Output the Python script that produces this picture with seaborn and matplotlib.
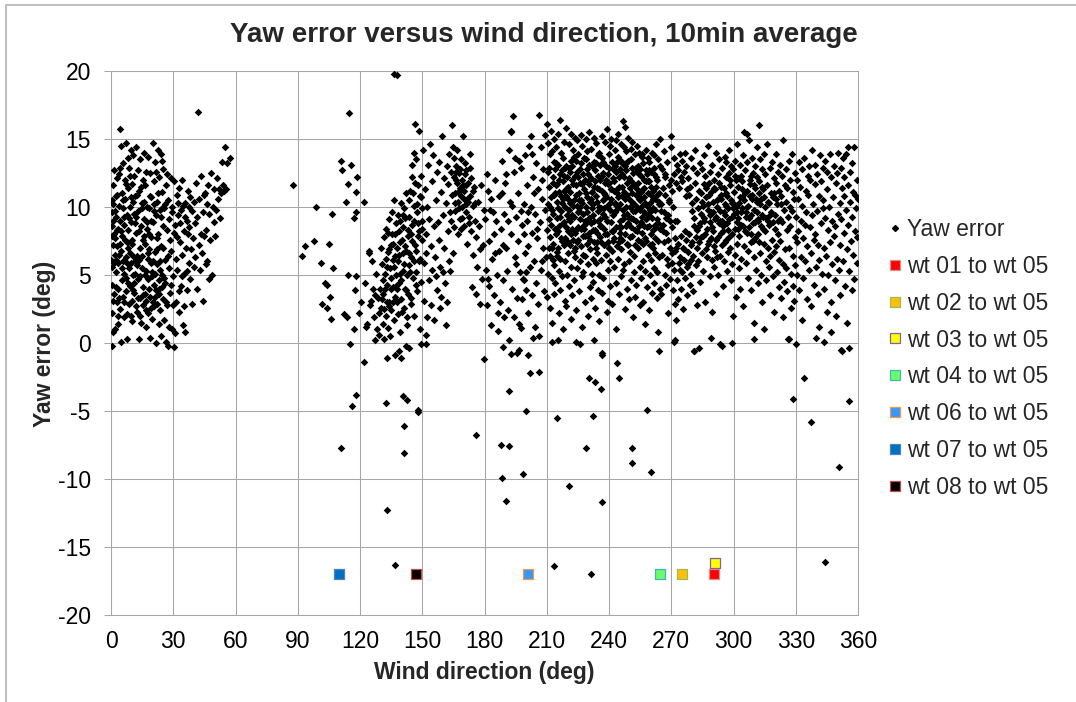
import matplotlib
matplotlib.use('Agg')
import pandas as pd
import matplotlib.pyplot as plt
import seaborn as sns
from matplotlib.lines import Line2D

# (wind direction deg, yaw error deg), split by direction sector
seg_000_060 = [
    (0.3,-0.2),(0.5,2.2),(0.8,0.8),(0.4,4.3),(0.6,5.6),(0.2,6.1),(0.9,7.2),(0.5,8.6),(0.7,9.6),(0.3,10.5),
    (1.1,10.2),(1.4,12.7),(1.2,11.6),(1.6,8.0),(1.8,6.5),(1.5,3.6),(2.0,1.0),(2.3,9.3),(2.1,7.7),(2.6,5.2),
    (2.4,10.8),(2.8,12.1),(2.9,3.0),(3.2,1.4),(3.0,7.1),(3.4,8.4),(3.6,5.9),(3.3,4.0),(3.8,10.1),(3.9,12.4),
    (4.1,9.0),(4.4,15.7),(4.6,6.8),(4.3,2.5),(4.8,0.1),(5.0,14.5),(5.2,11.0),(5.4,7.9),(5.1,4.6),(5.6,3.4),
    (5.8,9.9),(6.0,13.2),(6.2,8.7),(6.4,5.1),(6.1,1.9),(6.6,12.0),(6.8,10.6),(7.0,6.3),(7.2,3.8),(7.1,14.7),
    (7.5,9.4),(7.7,7.4),(7.4,4.8),(7.9,0.3),(8.1,13.6),(8.3,11.4),(8.0,8.3),(8.5,2.9),(8.7,5.5),(8.9,12.9),
    (9.1,10.0),(9.3,6.6),(9.0,4.2),(9.5,14.2),(9.7,8.9),(9.9,3.1),(10.1,11.7),(10.3,7.6),(10.5,5.0),(10.2,1.6),
    (10.7,13.8),(10.9,9.5),(11.1,3.7),(11.3,12.3),(11.5,6.0),(11.2,4.4),(11.8,10.8),(12.0,8.1),(12.2,14.4),(12.4,2.3),
    (12.6,5.7),(12.8,12.7),(13.0,9.7),(13.2,3.3),(13.4,0.3),(13.6,11.2),(13.8,7.0),(14.0,4.9),(14.2,13.5),(14.4,8.6),
    (14.6,1.5),(14.8,10.3),(15.0,6.4),(15.2,2.8),(15.4,12.0),(15.6,4.1),(15.8,9.1),(16.0,14.0),(16.2,7.3),(16.4,3.6),
    (16.6,11.6),(16.8,5.3),(17.0,1.2),(17.2,10.0),(17.4,8.4),(17.6,13.7),(17.8,4.7),(18.0,2.2),(18.2,9.9),(18.4,6.9),
    (18.6,0.4),(18.8,12.5),(19.0,3.4),(19.2,7.8),(19.4,10.7),(19.6,5.2),(19.8,1.8),(20.0,14.7),(20.3,8.9),(20.5,4.3),
    (20.7,11.9),(20.9,2.7),(21.1,6.7),(21.3,13.3),(21.5,9.4),(21.7,0.0),(21.9,3.9),(22.1,10.4),(22.3,5.8),(22.5,14.2),
    (22.7,8.0),(22.9,1.4),(23.1,12.2),(23.3,4.6),(23.5,9.8),(23.7,2.4),(23.9,13.9),(24.1,7.1),(24.3,0.5),(24.5,11.1),
    (24.7,5.0),(24.9,8.6),(25.1,3.2),(25.3,12.8),(25.5,1.7),(25.7,9.9),(25.9,6.1),(26.1,4.4),(26.3,11.6),(26.5,0.1),
    (26.8,8.3),(27.0,2.8),(27.3,10.5),(27.5,-0.2),(27.8,5.5),(28.1,9.1),(28.4,3.7),(28.7,12.1),(29.0,6.8),(29.3,1.0),
    (29.6,10.0),(29.9,4.9),(30.2,-0.3),(30.5,11.9),(30.8,8.7),(31.1,3.0),(31.4,6.2),(31.7,10.9),(32.0,5.4),(32.3,9.4),
    (32.6,2.3),(32.9,11.4),(33.2,7.4),(33.5,4.2),(33.8,9.8),(34.1,6.5),(34.4,12.0),(34.7,1.3),(35.0,8.2),(35.3,5.1),
    (35.6,10.3),(35.9,0.8),(36.2,7.0),(36.5,9.0),(36.8,3.9),(37.1,11.2),(37.4,5.9),(37.7,8.5),(38.0,4.7),(38.3,10.7),
    (38.6,6.9),(38.9,9.7),(39.2,2.9),(39.5,7.7),(39.8,10.4),(40.1,5.6),(40.4,8.8),(40.7,6.3),(41.0,11.8),(41.3,4.0),
    (41.6,9.3),(42.0,17.0),(42.3,7.2),(42.6,10.6),(42.9,5.4),(43.2,8.0),(43.5,12.3),(43.8,6.6),(44.1,9.6),(44.4,3.1),
    (44.7,7.9),(45.0,10.9),(45.3,11.0),(45.6,5.8),(45.9,8.3),(46.2,10.2),(46.5,6.0),(46.8,11.6),(47.1,4.7),(47.4,9.5),
    (47.8,7.6),(48.2,12.5),(48.6,5.0),(49.0,10.0),(49.4,8.9),(49.8,11.3),(50.2,7.9),(50.6,9.8),(51.0,12.1),(51.4,10.6),
    (52.0,11.3),(52.5,9.2),(53.0,11.0),(53.5,13.3),(54.0,11.6),(54.5,11.2),(55.0,14.4),(55.5,11.3),(56.0,13.2),(57.5,13.6),
    (0.9,9.0),(1.3,5.9),(2.2,4.1),(2.7,8.3),(3.1,10.9),(3.7,6.5),(4.0,3.3),(4.5,12.9),(4.9,8.2),(5.3,5.5),
    (5.7,10.5),(6.3,3.0),(6.7,7.6),(7.3,11.7),(7.8,2.1),(8.2,4.4),(8.6,9.2),(9.2,12.3),(9.6,5.9),(10.0,7.3),
    (10.4,3.9),(10.8,10.4),(11.4,8.8),(11.9,2.7),(12.3,6.4),(12.7,10.9),(13.1,4.7),(13.5,8.2),(13.9,2.0),(14.3,11.5),
    (14.7,5.5),(15.1,9.9),(15.5,3.5),(15.9,7.9),(16.3,5.0),(16.7,12.6),(17.1,3.1),(17.5,8.9),(17.9,6.2),(18.3,4.0),
    (18.7,10.8),(19.1,2.6),(19.5,9.0),(19.9,4.9),(20.4,3.0),(20.8,10.2),(21.2,5.1),(21.6,12.6),(22.0,7.7),(22.4,2.9),
    (22.8,11.0),(23.2,3.6),(23.6,6.0),(24.0,9.3),(24.4,4.1),(24.8,13.4),(25.2,7.0),(25.6,4.8),(26.0,10.2),(26.4,3.0),
    (26.9,12.4),(27.4,6.4),(27.9,1.2),(28.3,7.6),(28.9,4.3),(29.4,9.6),(29.9,2.8),(30.4,8.1),(31.0,0.7),(31.6,7.8),
    (32.2,10.3),(32.8,3.8),(33.4,8.8),(34.0,4.9),(34.6,10.1),(35.2,2.7),(35.8,9.3),(36.4,5.3),(37.0,8.0),(37.6,10.0),
    (0.6,7.9),(1.0,3.1),(1.7,9.7),(2.5,6.1),(3.5,2.0),(4.2,7.3),(5.9,6.0),(6.5,9.3),(7.6,5.9),(8.4,7.0),
    (9.4,2.0),(9.8,10.7),(10.6,6.4),(11.6,5.1),(12.1,9.3),(13.3,6.1),(14.1,3.3),(15.3,7.6),(16.1,10.4),(16.9,2.4),
    (17.7,6.6),(18.5,8.0),(19.3,5.9),(20.1,6.0),(20.6,9.7),(21.4,3.4),(22.2,6.9),(23.0,4.0),(23.8,5.4),(24.6,9.9),
]

seg_085_130 = [
    (87.9,11.6),(92.0,6.4),(93.4,7.1),(98.0,7.5),(98.8,10.0),(101.3,5.9),(106.3,9.5),(105.3,7.3),(107.1,5.5),(103.3,4.4),
    (104.0,4.3),(105.5,3.4),(101.7,2.9),(104.1,2.6),(105.8,1.8),(110.8,13.4),(111.3,12.7),(114.6,16.9),(114.1,11.7),(115.9,13.1),
    (118.7,12.2),(113.3,10.4),(117.9,11.1),(118.2,9.6),(117.1,9.2),(121.9,10.4),(114.4,5.0),(117.9,4.9),(117.7,3.9),(122.5,4.4),
    (112.4,2.1),(113.8,1.9),(117.1,1.0),(119.6,2.2),(124.4,6.8),(124.5,6.6),(124.9,2.8),(122.9,1.2),(123.5,1.4),(126.2,4.0),
    (127.0,3.5),(125.8,6.0),(126.6,1.9),(127.6,5.1),(127.3,0.2),(125.1,3.1),(120.5,3.0),
]

seg_130_180 = [
    (128.0,1.0),(128.5,3.3),(129.0,2.2),(129.3,0.6),(129.8,4.0),(130.2,2.6),(130.5,5.8),(130.9,1.4),(131.2,3.6),(131.5,7.8),
    (131.8,0.3),(132.0,5.1),(132.3,2.0),(132.7,8.4),(133.0,4.3),(133.3,6.7),(133.6,1.1),(133.9,9.1),(134.2,3.0),(134.5,5.5),
    (134.8,7.2),(135.1,2.4),(135.4,8.0),(135.7,4.1),(136.0,6.1),(136.3,10.5),(136.6,1.7),(136.9,3.4),(137.2,8.8),(137.5,5.0),
    (137.8,7.0),(138.1,2.1),(138.4,9.4),(138.7,4.4),(139.0,6.5),(139.3,0.8),(139.6,10.3),(139.9,3.2),(140.2,7.6),(140.5,5.3),
    (140.8,8.5),(141.1,2.6),(141.4,9.9),(141.7,4.0),(142.0,6.8),(142.3,11.0),(142.6,1.3),(142.9,7.9),(143.2,3.6),(143.5,5.7),
    (143.8,9.3),(144.1,11.2),(144.4,2.9),(144.7,6.3),(145.0,8.7),(145.3,12.2),(145.6,4.8),(145.9,10.1),(146.2,2.0),(146.5,7.2),
    (146.8,13.5),(147.1,5.2),(147.4,9.6),(147.7,3.8),(148.0,11.6),(148.3,6.0),(148.6,8.2),(148.9,1.0),(149.2,10.7),(149.5,4.5),
    (149.8,7.6),(150.1,9.9),(150.4,14.2),(150.7,5.9),(151.0,3.1),(151.3,11.3),(151.6,8.0),(151.9,6.6),(152.2,10.0),(152.5,1.9),
    (152.8,13.1),(153.1,4.6),(153.4,9.1),(153.7,14.6),(154.0,7.1),(154.3,2.8),(154.6,11.9),(154.9,5.4),(155.2,13.8),(155.5,8.6),
    (131.0,4.6),(132.5,6.2),(134.0,2.7),(135.0,4.8),(136.1,3.0),(137.0,6.4),(138.0,4.0),(139.1,7.4),(140.0,2.3),(141.0,5.8),
    (142.1,3.9),(143.0,8.3),(144.0,5.2),(145.1,7.5),(146.1,9.0),(147.0,6.8),(148.1,7.9),(149.0,6.2),(150.0,8.4),(130.0,7.0),
    (133.5,8.1),(136.5,5.6),(138.6,8.2),(140.6,9.4),(143.4,10.5),(145.5,11.0),(147.5,10.2),(149.6,12.3),(141.5,7.1),(139.5,5.1),
    (137.6,3.0),(135.6,9.6),(134.6,0.5),(132.9,3.0),(146.8,4.3),(144.8,3.3),(142.8,1.9),(146.0,14.0),(145.2,13.1),(148.4,15.6),
    (146.3,16.1),(151.8,0.6),(149.5,-0.1),(136.3,19.8),(137.8,19.7),
    (130.6,3.2),(131.6,2.5),(132.1,4.0),(133.1,5.6),(134.1,6.9),(134.9,4.0),(135.9,7.3),(136.8,8.0),(137.3,4.2),(138.3,6.0),
    (139.4,9.0),(139.8,4.6),(140.9,6.6),(141.8,9.2),(142.5,5.0),(143.6,6.6),(144.6,8.0),(145.8,6.0),(146.6,11.8),(147.9,8.8),
    (148.8,10.8),(149.9,9.0),
    (156.0,6.3),(156.5,10.5),(157.0,3.9),(157.3,12.6),(157.8,8.9),(158.3,13.3),(158.7,5.6),(159.0,11.1),(159.5,15.2),(159.8,9.4),
    (160.3,12.1),(160.6,7.0),(161.0,4.4),(161.4,10.3),(161.8,13.0),(162.2,8.2),(162.6,11.7),(163.0,6.0),(163.3,9.6),(163.7,12.6),
    (164.2,16.0),(164.5,10.9),(164.8,14.4),(165.1,8.5),(165.4,12.2),(165.7,11.0),(166.0,9.7),(166.3,13.0),(166.7,14.2),(167.0,10.4),
    (167.3,8.0),(167.6,12.5),(168.0,11.4),(168.3,9.1),(168.6,13.5),(169.0,10.0),(169.3,12.0),(169.7,15.2),(170.0,8.6),(170.3,11.2),
    (170.6,13.2),(170.9,9.6),(171.2,12.7),(171.5,10.6),(171.8,7.3),(172.1,11.8),(172.4,9.3),(172.8,13.9),(173.1,10.8),(173.4,8.2),
    (173.7,12.1),(174.0,4.1),(174.3,10.1),(174.6,6.5),(175.0,11.5),(175.3,9.0),(175.7,3.6),(176.0,7.8),(176.4,5.6),(176.8,10.4),
    (177.2,8.6),(177.6,2.9),(178.0,6.9),(178.4,11.6),(178.8,4.7),(179.2,7.2),(179.6,9.8),(165.2,13.6),(166.8,11.8),(168.8,10.8),
    (167.8,9.9),(169.5,11.6),(171.0,10.2),(164.0,9.0),(163.0,13.9),(160.0,5.2),(158.0,7.6),(170.4,12.4),(172.6,8.8),(166.5,12.6),
    (156.8,4.9),(158.5,2.6),(161.5,1.3),(163.5,5.3),(159.2,3.4),(155.8,1.7),(162.0,3.0),(164.6,6.6),
    (166.1,12.0),(167.1,11.1),(168.1,12.8),(169.1,9.2),(170.1,10.6),(171.1,11.6),(172.2,10.4),(173.2,12.9),(174.5,11.2),(175.5,10.3),
    (168.5,8.4),(165.9,10.3),
]

seg_180_210 = [
    (180.3,9.1),(180.7,5.4),(181.0,12.4),(181.4,2.8),(181.6,11.2),(182.0,7.5),(182.4,4.2),(182.8,9.8),(183.2,1.3),(183.5,6.2),
    (184.0,9.6),(184.4,3.5),(184.8,8.0),(185.2,12.0),(185.6,9.0),(186.0,5.0),(186.4,0.9),(186.8,10.8),(187.2,6.8),(187.6,3.0),
    (188.0,8.4),(188.4,13.4),(188.8,4.6),(189.2,1.9),(189.6,9.5),(190.0,11.8),(190.2,12.4),(190.6,7.0),(191.0,5.3),(191.4,2.4),
    (191.7,14.2),(192.0,0.2),(192.4,10.4),(192.6,15.6),(192.7,15.5),(193.0,8.0),(193.4,4.0),(193.7,16.7),(194.0,12.6),(194.5,13.6),
    (194.8,6.3),(195.2,9.3),(195.6,3.3),(196.0,11.0),(196.3,7.5),(196.7,1.4),(197.0,5.2),(197.4,12.9),(197.7,1.1),(198.0,8.7),
    (198.4,4.7),(198.8,10.2),(199.1,4.6),(199.3,6.6),(199.6,13.8),(200.0,3.9),(200.3,9.0),(200.6,11.6),(200.9,2.2),(201.2,7.1),
    (201.6,14.5),(202.0,5.6),(202.2,15.2),(202.5,10.0),(202.8,8.1),(203.1,3.5),(203.3,0.4),(203.6,12.2),(204.0,6.0),(204.3,9.5),
    (204.7,13.2),(205.0,4.4),(205.3,7.7),(205.7,11.3),(206.0,2.9),(206.2,16.8),(206.5,0.5),(206.8,8.9),(207.1,14.4),(207.4,5.4),
    (207.7,10.6),(208.0,12.8),(208.3,7.0),(208.6,3.8),(209.0,9.8),(209.3,15.3),(209.6,6.3),(209.9,16.1),
    (185.0,6.6),(189.0,7.2),(193.2,10.1),(195.0,5.8),(199.0,8.0),(201.0,9.6),(203.8,11.0),(205.5,8.4),(207.5,12.0),(198.2,3.2),
    (194.2,1.9),(188.2,11.0),(183.0,10.6),(191.2,9.0),(196.8,13.4),(186.6,2.2),(181.8,4.7),(207.9,6.0),(202.9,13.9),(204.5,1.2),
    (200.2,5.2),(197.6,9.7),
]

seg_210_265 = [
    (210.2,8.3),(210.5,12.6),(210.8,5.1),(210.4,14.7),(210.7,10.2),(210.1,3.4),(210.9,7.0),
    (211.1,11.5),(211.4,6.4),(211.8,13.9),(211.3,9.1),(211.6,2.6),(211.9,15.6),(211.5,7.8),
    (212.2,10.7),(212.5,4.8),(212.8,12.2),(212.1,8.7),(212.6,14.1),(212.9,6.1),(212.4,1.5),
    (213.0,9.5),(213.3,13.3),(213.6,5.7),(213.9,11.0),(213.2,7.3),(213.7,15.0),(213.5,3.6),
    (214.1,12.8),(214.4,8.0),(214.7,10.4),(214.2,4.4),(214.9,6.7),(214.5,14.4),(214.8,9.2),
    (215.0,11.7),(215.3,7.0),(215.6,13.1),(215.9,5.3),(215.2,9.9),(215.7,2.2),(215.4,15.4),
    (216.1,8.6),(216.4,12.4),(216.7,10.8),(216.2,6.2),(216.9,14.0),(216.5,3.9),(216.3,16.4),
    (217.0,9.7),(217.3,7.5),(217.6,11.9),(217.9,13.6),(217.2,4.9),(217.5,10.3),(217.8,1.0),
    (218.2,12.3),(218.5,8.9),(218.8,6.0),(218.1,14.8),(218.6,10.0),(218.9,3.1),(218.4,11.2),
    (219.0,7.7),(219.3,13.0),(219.6,9.4),(219.9,5.0),(219.2,15.8),(219.7,11.4),(219.5,2.7),
    (220.1,10.6),(220.4,6.6),(220.7,12.9),(220.2,8.2),(220.9,14.6),(220.5,4.2),(220.8,9.8),
    (221.0,11.1),(221.3,7.2),(221.6,13.4),(221.9,5.6),(221.2,9.0),(221.8,15.4),(221.5,1.8),
    (222.1,8.4),(222.4,12.0),(222.7,10.1),(222.2,3.5),(222.9,6.8),(222.5,14.2),(222.8,11.7),
    (223.0,9.3),(223.3,13.7),(223.6,6.3),(223.9,11.6),(223.2,4.6),(223.7,8.1),(223.5,15.1),
    (224.1,10.9),(224.4,7.4),(224.7,12.6),(224.2,2.4),(224.9,9.6),(224.5,14.9),(224.8,5.5),
    (225.0,12.2),(225.3,8.5),(225.6,10.5),(225.9,6.0),(225.2,13.9),(225.7,3.8),(225.4,11.0),
    (226.1,9.1),(226.4,13.2),(226.7,7.1),(226.2,11.8),(226.9,4.9),(226.5,15.3),(226.8,1.2),
    (227.0,10.3),(227.3,6.5),(227.6,12.4),(227.9,8.7),(227.2,14.5),(227.7,5.2),(227.5,9.5),
    (228.1,11.3),(228.4,7.9),(228.7,13.5),(228.2,3.0),(228.9,10.0),(228.5,6.4),(228.8,15.0),
    (229.0,8.8),(229.3,12.8),(229.6,10.7),(229.9,5.8),(229.2,14.1),(229.7,2.0),(229.5,7.3),
    (230.1,11.9),(230.4,9.2),(230.7,6.9),(230.2,13.1),(230.9,4.1),(230.5,15.5),(230.8,10.4),
    (231.0,7.6),(231.3,12.1),(231.6,9.9),(231.9,5.1),(231.2,14.3),(231.7,11.1),(231.5,3.3),
    (232.1,10.2),(232.4,6.2),(232.7,13.3),(232.2,8.3),(232.9,15.1),(232.5,4.5),(232.8,11.5),
    (233.0,9.0),(233.3,12.7),(233.6,7.0),(233.9,10.8),(233.2,2.6),(233.7,14.7),(233.5,5.9),
    (234.1,11.4),(234.4,8.1),(234.7,13.8),(234.2,6.6),(234.9,9.7),(234.5,3.9),(234.8,12.3),
    (235.0,10.0),(235.3,14.0),(235.6,7.8),(235.9,12.0),(235.2,5.0),(235.7,9.1),(235.4,1.6),
    (236.1,8.6),(236.4,11.2),(236.7,13.6),(236.2,6.1),(236.9,10.5),(236.5,15.2),(236.8,3.7),
    (237.0,12.5),(237.3,9.5),(237.6,7.2),(237.9,14.8),(237.2,4.8),(237.7,11.0),(237.5,8.4),
    (238.1,10.9),(238.4,13.0),(238.7,6.5),(238.2,9.3),(238.9,2.3),(238.5,12.0),(238.8,15.7),
    (239.0,8.0),(239.3,11.7),(239.6,5.4),(239.9,13.9),(239.2,10.1),(239.7,7.4),(239.5,3.1),
    (240.1,12.9),(240.4,9.8),(240.7,14.5),(240.2,7.0),(240.9,11.3),(240.5,4.2),(240.8,8.9),
    (241.0,10.6),(241.3,13.3),(241.6,6.8),(241.9,9.4),(241.2,15.0),(241.7,12.1),(241.5,2.9),
    (242.1,8.2),(242.4,11.9),(242.7,14.2),(242.2,5.6),(242.9,10.3),(242.5,7.7),(242.8,13.0),
    (243.0,9.6),(243.3,12.6),(243.6,4.4),(243.9,11.0),(243.2,14.9),(243.7,7.1),(243.5,1.0),
    (244.1,10.7),(244.4,13.7),(244.7,8.5),(244.2,6.2),(244.9,12.2),(244.5,15.4),(244.8,3.6),
    (245.0,11.5),(245.3,9.0),(245.6,14.6),(245.9,6.9),(245.2,12.8),(245.7,4.9),(245.4,10.2),
    (246.1,13.2),(246.4,7.6),(246.7,16.3),(246.2,10.8),(246.9,5.4),(246.5,12.4),(246.8,9.1),
    (247.0,14.4),(247.3,11.1),(247.6,8.0),(247.9,13.0),(247.2,5.8),(247.7,2.5),(247.5,15.9),
    (248.1,10.0),(248.4,12.7),(248.7,7.3),(248.2,14.1),(248.9,4.0),(248.5,9.5),(248.8,11.8),
    (249.0,13.4),(249.3,8.8),(249.6,6.0),(249.9,11.4),(249.2,15.1),(249.7,3.2),(249.5,10.6),
    (250.1,12.0),(250.4,9.2),(250.7,14.3),(250.2,6.7),(250.9,11.0),(250.5,4.6),(250.8,13.5),
    (251.0,10.4),(251.3,7.9),(251.6,12.5),(251.9,5.2),(251.2,14.8),(251.7,9.7),(251.5,1.9),
    (252.1,11.6),(252.4,13.9),(252.7,8.3),(252.2,6.4),(252.9,10.9),(252.5,3.4),(252.8,12.9),
    (253.0,9.0),(253.3,14.5),(253.6,11.3),(253.9,7.0),(253.2,4.3),(253.7,12.6),(253.5,10.0),
    (254.1,13.0),(254.4,8.6),(254.7,5.6),(254.2,11.8),(254.9,9.8),(254.5,14.0),(254.8,2.8),
    (255.0,10.5),(255.3,12.3),(255.6,7.4),(255.9,13.7),(255.2,4.8),(255.7,9.3),(255.4,11.1),
    (256.1,8.1),(256.4,13.2),(256.7,10.7),(256.2,6.0),(256.9,12.0),(256.5,3.0),(256.8,9.6),
    (257.0,11.4),(257.3,7.7),(257.6,14.2),(257.9,9.1),(257.2,5.3),(257.7,12.7),(257.5,1.4),
    (258.1,10.1),(258.4,12.4),(258.7,6.5),(258.2,8.5),(258.9,13.6),(258.5,4.1),(258.8,11.0),
    (259.0,9.4),(259.3,11.9),(259.6,7.2),(259.9,5.0),(259.2,13.3),(259.7,10.3),(259.5,2.4),
    (260.1,12.6),(260.4,8.0),(260.7,10.8),(260.2,6.1),(260.9,14.0),(260.5,3.7),(260.8,9.2),
    (261.0,11.2),(261.3,7.0),(261.6,12.9),(261.9,5.5),(261.2,9.9),(261.7,13.8),(261.5,4.4),
    (262.1,10.6),(262.4,8.7),(262.7,12.2),(262.2,6.6),(262.9,3.3),(262.5,11.5),(262.8,14.6),
    (263.0,9.1),(263.3,12.0),(263.6,7.5),(263.9,10.4),(263.2,5.2),(263.7,13.5),(263.5,0.8),
    (264.1,11.0),(264.4,8.4),(264.7,13.0),(264.2,6.3),(264.9,9.7),(264.5,15.0),(264.8,4.0),
    (212.3,9.8),(213.8,8.4),(214.6,11.6),(215.5,8.2),(216.6,9.3),(217.4,12.7),(218.3,7.2),(219.4,10.8),(220.6,9.1),(221.4,10.3),
    (222.3,9.4),(223.4,12.3),(224.3,8.3),(225.5,9.7),(226.3,10.5),(227.4,7.9),(228.3,12.0),(229.4,9.6),(230.3,8.1),(231.4,10.6),
    (232.3,9.4),(233.4,11.9),(234.3,10.4),(235.5,8.6),(236.3,9.9),(237.4,10.6),(238.3,8.0),(239.4,12.4),(240.3,10.3),(241.4,8.2),
    (242.3,9.6),(243.4,8.5),(244.3,9.9),(245.5,8.1),(246.3,11.5),(247.4,9.4),(248.3,8.6),(249.4,12.1),(250.3,10.0),(251.4,11.8),
    (252.3,9.7),(253.4,8.2),(254.3,10.6),(255.5,8.9),(256.3,11.3),(257.4,10.3),(258.3,9.2),(259.4,8.6),(260.3,11.5),(261.4,8.3),
    (262.3,9.8),(211.7,10.0),(213.4,10.9),(215.8,12.0),(218.7,12.9),(220.3,11.5),(222.6,7.6),(224.6,10.1),(226.6,8.4),(228.6,9.0),
    (230.6,11.7),(232.6,7.4),(234.6,9.0),(236.6,12.3),(238.6,10.7),(240.6,6.0),(242.6,11.2),(244.6,7.4),(246.6,9.8),(248.6,10.9),
    (250.6,8.5),(252.6,7.2),(254.6,12.4),(256.6,7.3),(258.6,11.9),(260.6,7.3),(262.6,8.5),(264.3,10.2),
    (211.2,12.9),(212.7,7.0),(213.1,11.8),(214.3,13.2),(215.1,6.4),(216.0,11.1),(216.8,7.7),(217.7,8.8),(218.0,10.6),(219.1,8.5),
    (219.8,12.2),(220.0,7.4),(221.1,12.6),(221.7,8.0),(222.0,13.0),(223.1,10.5),(223.8,7.0),(224.0,13.4),(225.1,7.6),(225.8,12.8),
    (226.0,10.0),(227.1,11.7),(227.8,13.6),(228.0,8.4),(229.1,11.0),(229.8,7.9),(230.0,12.4),(231.1,8.8),(231.8,13.0),(232.0,11.1),
    (233.1,8.3),(233.8,13.2),(234.0,7.4),(235.1,11.3),(235.8,13.1),(236.0,7.4),(237.1,13.3),(237.8,9.9),(238.0,11.8),(239.1,9.0),
    (239.8,7.0),(240.0,11.8),(241.1,11.3),(241.8,7.5),(242.0,12.8),(243.1,10.2),(243.8,13.3),(244.0,11.3),(245.1,7.7),(245.8,13.4),
    (246.0,8.5),(247.1,12.2),(247.8,10.6),(248.0,13.2),(249.1,7.2),(249.8,9.2),(250.0,7.8),(251.1,12.9),(251.8,9.1),(252.0,10.2),
    (253.1,12.9),(253.8,10.8),(254.0,7.6),(255.1,12.8),(255.8,10.1),(256.0,13.9),(257.1,8.6),(257.8,11.9),(258.0,7.5),(259.1,12.7),
    (259.8,9.8),(260.0,9.7),(261.1,10.6),(261.8,12.4),(262.0,7.7),(263.1,10.9),(263.8,8.8),
]

seg_265_330 = [
    (265.1,10.2),(265.4,6.5),(265.7,12.8),(265.3,3.6),(265.8,8.7),(266.0,11.4),(266.3,7.4),(266.6,14.1),(266.8,5.0),(266.5,9.6),
    (267.1,12.2),(267.4,4.3),(267.7,8.1),(267.2,10.9),(267.9,6.2),(268.0,13.3),(268.3,9.4),(268.6,5.7),(268.9,11.6),(268.5,2.2),
    (269.1,10.5),(269.4,7.0),(269.7,14.4),(269.3,4.7),(269.8,12.0),(270.0,15.2),(270.3,8.5),(270.6,11.2),(270.8,3.9),(270.5,6.6),
    (271.1,12.4),(271.4,5.4),(271.7,7.7),(271.3,13.6),(271.8,2.9),(272.0,6.8),(272.3,11.8),(272.6,4.6),(272.9,13.1),(272.5,1.7),
    (273.1,7.3),(273.4,12.7),(273.7,5.9),(273.2,3.2),(273.8,11.4),(274.0,6.3),(274.3,13.9),(274.6,4.0),(274.9,12.2),(274.5,7.9),
    (275.1,5.2),(275.4,11.9),(275.7,7.0),(275.3,13.4),(275.8,2.5),(276.0,12.6),(276.3,6.1),(276.6,4.8),(276.9,10.8),(276.5,14.0),
    (277.1,7.6),(277.4,11.3),(277.7,3.5),(277.2,13.0),(277.8,5.6),(278.0,12.1),(278.3,6.7),(278.6,10.9),(278.9,4.3),(278.5,8.0),
    (279.1,11.5),(279.4,7.2),(279.7,13.6),(279.3,5.1),(279.8,9.7),(280.0,10.3),(280.3,6.4),(280.6,12.9),(280.8,8.6),(280.5,3.8),
    (281.1,9.2),(281.4,11.8),(281.7,5.7),(281.3,14.2),(281.8,7.8),(282.0,10.6),(282.3,8.3),(282.6,12.5),(282.9,6.0),(282.5,2.8),
    (283.1,9.9),(283.4,7.4),(283.7,13.2),(283.2,11.2),(283.8,4.5),(284.0,8.8),(284.3,11.0),(284.6,6.6),(284.9,12.8),(284.5,9.5),
    (285.1,10.1),(285.4,7.9),(285.7,13.8),(285.3,5.3),(285.8,11.7),(286.0,9.0),(286.3,12.3),(286.6,6.9),(286.9,10.7),(286.5,3.0),
    (287.1,8.4),(287.4,11.6),(287.7,14.5),(287.2,6.3),(287.8,9.8),(288.0,10.9),(288.3,7.5),(288.6,12.6),(288.9,4.9),(288.5,8.9),
    (289.1,9.6),(289.4,13.1),(289.7,6.1),(289.3,11.1),(289.8,2.3),(290.0,8.2),(290.3,10.4),(290.6,12.0),(290.8,5.6),(290.5,7.1),
    (291.1,11.3),(291.4,9.3),(291.7,14.0),(291.3,6.8),(291.8,3.6),(292.0,10.0),(292.3,7.8),(292.6,12.4),(292.9,8.8),(292.5,5.0),
    (293.1,11.8),(293.4,9.7),(293.7,6.4),(293.2,13.5),(293.8,8.1),(294.0,10.6),(294.3,12.9),(294.6,7.2),(294.9,4.2),(294.5,9.0),
    (295.1,8.6),(295.4,11.4),(295.7,13.7),(295.3,6.0),(295.8,10.2),(296.0,9.4),(296.3,12.2),(296.6,7.6),(296.9,5.3),(296.5,11.0),
    (297.1,10.8),(297.4,8.3),(297.7,14.2),(297.2,6.7),(297.8,12.5),(298.0,9.1),(298.3,11.6),(298.6,4.6),(298.9,13.0),(298.5,7.0),
    (299.1,10.3),(299.4,8.0),(299.7,12.8),(299.3,5.8),(299.8,2.0),(300.0,11.1),(300.3,9.5),(300.6,13.4),(300.8,6.5),(300.5,8.4),
    (301.1,12.0),(301.4,10.0),(301.7,7.3),(301.3,3.4),(301.8,14.6),(302.0,9.2),(302.3,11.5),(302.6,5.5),(302.9,13.1),(302.5,7.9),
    (303.1,10.7),(303.4,8.7),(303.7,12.3),(303.2,4.0),(303.8,6.2),(304.0,11.9),(304.3,9.9),(304.6,13.8),(304.9,7.1),(304.5,2.7),
    (305.1,10.5),(305.4,8.2),(305.7,12.7),(305.3,15.5),(305.8,5.9),(306.0,9.6),(306.3,11.2),(306.6,15.4),(306.9,6.8),(306.5,13.3),
    (307.1,10.1),(307.4,8.5),(307.7,14.9),(307.2,4.8),(307.8,12.0),(308.0,11.7),(308.3,7.4),(308.6,9.4),(308.9,13.6),(308.5,3.9),
    (309.1,10.9),(309.4,12.5),(309.7,6.3),(309.3,8.8),(309.8,1.5),(310.0,9.8),(310.3,11.4),(310.6,13.0),(310.8,5.4),(310.5,7.7),
    (311.1,12.2),(311.4,10.4),(311.7,8.0),(311.3,14.4),(311.8,4.4),(312.0,9.0),(312.3,11.9),(312.5,16.0),(312.9,6.6),(312.6,13.5),
    (313.1,10.6),(313.4,8.6),(313.7,12.8),(313.2,5.0),(313.8,3.0),(314.0,11.3),(314.3,9.3),(314.6,13.9),(314.9,7.3),(314.5,1.0),
    (315.1,10.0),(315.4,12.4),(315.7,6.0),(315.3,8.2),(315.8,4.6),(316.0,11.6),(316.3,14.6),(316.6,9.0),(316.9,5.6),(316.5,7.0),
    (317.1,10.3),(317.4,12.9),(317.7,3.5),(317.2,8.7),(317.8,6.4),(318.0,11.0),(318.3,9.6),(318.6,13.3),(318.9,4.9),(318.5,7.6),
    (319.1,10.7),(319.4,12.1),(319.7,6.7),(319.3,2.3),(319.8,8.4),(320.0,9.4),(320.3,11.8),(320.6,13.9),(320.8,5.2),(320.5,7.1),
    (321.1,10.2),(321.4,12.6),(321.7,4.1),(321.3,8.0),(321.8,6.1),(322.0,11.2),(322.3,9.1),(322.6,13.1),(322.9,3.3),(322.5,7.5),
    (323.1,10.8),(323.4,12.3),(323.7,5.8),(323.2,8.9),(323.8,1.9),(324.0,14.9),(324.3,9.8),(324.6,11.6),(324.9,6.9),(324.5,4.5),
    (325.1,10.4),(325.4,12.8),(325.7,8.3),(325.3,5.5),(325.8,3.8),(326.0,11.4),(326.3,9.3),(326.6,13.4),(326.9,7.0),(326.5,0.3),
    (327.1,10.0),(327.4,12.0),(327.7,5.1),(327.2,8.6),(327.8,2.6),(328.0,13.9),(328.3,9.7),(328.6,11.1),(328.9,6.4),(328.5,4.2),
    (329.1,10.6),(329.4,12.5),(329.7,7.8),(329.3,3.1),(329.8,5.7),
    (286.2,8.0),(287.5,10.2),(288.7,9.4),(289.5,8.5),(290.2,9.6),(291.5,7.6),(292.7,10.6),(293.5,9.0),(294.7,8.2),(295.5,9.6),
    (296.7,8.8),(297.5,9.9),(298.7,10.5),(299.5,9.3),(300.2,10.2),(301.5,8.9),(302.7,10.3),(303.5,9.6),(304.7,8.6),(305.5,11.0),
    (306.7,10.0),(307.5,9.2),(308.7,10.6),(309.5,7.5),(310.2,8.9),(311.5,9.6),(312.7,10.2),(313.5,11.5),(314.7,10.7),(270.4,5.9),
    (272.2,7.0),(274.2,5.4),(276.2,6.9),(278.2,5.8),(280.2,7.4),(282.2,7.0),(284.2,7.8),(276.7,8.2),(279.6,6.1),(271.6,9.0),
    (267.5,9.2),(266.2,8.2),(268.2,7.6),(269.6,9.0),(302.2,12.1),(296.2,13.3),(290.7,11.4),(308.2,12.3),(312.2,11.0),
    (283.5,8.6),(284.8,10.4),(285.6,9.2),(286.7,11.4),(287.9,7.3),(288.2,11.8),(289.0,7.7),(290.9,9.1),(291.9,10.5),(292.2,6.3),
    (293.9,10.9),(294.2,11.5),(295.9,7.4),(296.4,10.1),(297.9,7.8),(298.2,12.0),(299.9,9.9),(300.9,12.3),(301.9,9.6),(302.4,8.4),
    (303.9,11.3),(304.2,10.7),(305.9,9.3),(306.4,8.1),(307.9,10.8),(308.4,8.0),(309.9,11.6),(310.9,10.6),(311.9,9.1),(312.4,7.4),
    (313.9,9.4),(314.2,8.4),(315.6,9.2),(316.8,10.4),(317.5,9.4),(318.8,8.9),(319.6,11.0),(320.7,10.6),(321.6,9.0),(322.8,10.2),
    (270.9,10.0),(272.8,9.0),(268.7,10.4),(266.9,12.4),
]

seg_330_360 = [
    (330.2,9.3),(330.5,12.0),(330.8,5.0),(330.4,7.4),(331.1,10.6),(331.4,13.3),(331.7,3.9),(331.3,8.2),
    (332.0,11.5),(332.3,6.3),(332.6,9.0),(332.9,1.7),(333.1,12.8),(333.4,7.7),(333.7,4.8),(333.2,10.1),
    (334.0,13.6),(334.3,8.7),(334.6,6.0),(334.9,11.2),(335.1,9.6),(335.4,3.2),(335.7,12.3),(335.3,7.1),
    (336.0,10.9),(336.3,5.4),(336.6,13.0),(336.9,8.5),(337.1,12.0),(337.4,6.6),(337.7,9.4),(337.2,2.7),
    (338.0,14.2),(338.3,10.2),(338.6,4.3),(338.9,7.6),(339.1,11.7),(339.4,8.0),(339.7,5.6),(339.3,13.1),
    (340.0,9.7),(340.3,12.4),(340.6,3.6),(340.8,7.2),(341.1,10.8),(341.4,6.1),(341.7,13.8),(341.3,1.2),
    (342.0,8.8),(342.3,11.9),(342.6,5.1),(342.9,9.9),(343.1,12.9),(343.4,7.0),(343.7,4.0),(343.2,10.5),
    (344.0,9.2),(344.3,13.4),(344.6,6.4),(344.9,2.3),(345.1,11.3),(345.4,8.3),(345.7,5.0),(345.3,12.6),
    (346.0,10.0),(346.3,7.4),(346.6,13.9),(346.9,3.0),(347.1,12.2),(347.4,9.0),(347.7,5.8),(347.2,0.8),
    (348.0,10.7),(348.3,13.0),(348.6,7.9),(348.9,4.6),(349.1,8.6),(349.4,11.8),(349.7,6.2),(349.3,2.0),
    (350.0,12.5),(350.3,9.5),(350.6,14.0),(350.8,5.4),(351.1,10.3),(351.4,7.2),(351.7,12.9),(351.3,3.5),
    (352.0,9.1),(352.3,11.4),(352.6,6.0),(352.9,13.6),(353.1,10.8),(353.4,8.1),(353.7,4.2),(353.2,12.2),
    (354.0,9.8),(354.3,13.9),(354.6,6.9),(354.9,1.5),(355.1,11.6),(355.4,8.7),(355.7,5.3),(355.3,14.4),
    (356.0,10.4),(356.3,12.6),(356.6,7.5),(356.9,3.9),(357.1,9.3),(357.4,11.1),(357.7,6.5),(357.2,13.2),
    (358.1,14.4),(358.4,10.9),(358.7,8.2),(358.2,4.7),(359.1,9.9),(359.4,12.0),(359.7,5.9),(359.3,7.8),(359.8,10.6),
]

# scattered low readings (negative yaw error and points near zero)
low_points = [
    (110.8,-7.7),(116.1,-4.6),(117.9,-3.8),(122.1,-1.4),(115.4,-0.1),(132.3,-4.4),(133.2,-12.3),(136.8,-16.3),(133.2,-1.1),(137.0,-0.9),
    (139.0,-0.6),(139.8,-1.1),(140.6,-3.9),(142.6,-4.2),(141.1,-6.1),(141.0,-8.1),(147.8,-5.1),(148.0,-4.9),(151.7,-0.1),(142.3,-0.2),
    (143.6,-0.4),(179.6,-1.2),(176.0,-6.8),(187.9,-7.5),(192.0,-7.6),(188.2,-9.9),(190.4,-11.6),(198.7,-9.6),(199.8,-5.0),(191.7,-3.5),
    (201.9,-2.2),(188.7,-0.3),(192.8,-0.8),(195.8,-0.7),(196.7,-0.5),(201.2,-0.9),(206.2,-2.1),(214.8,-5.5),(220.8,-10.5),(228.7,-7.7),
    (232.1,-5.4),(230.2,-2.6),(233.2,-2.9),(236.0,-3.4),(236.5,-11.7),(236.8,-0.9),(236.6,-0.7),(243.8,-1.5),(245.0,-2.6),(251.3,-7.7),
    (251.0,-8.8),(260.2,-9.5),(258.4,-4.9),(263.9,-0.6),(280.8,-0.6),(283.3,-0.4),(293.3,-0.1),(294.6,-0.2),(299.4,0.0),(271.4,0.1),
    (328.6,-4.1),(333.9,-2.6),(337.2,-5.8),(350.8,-9.1),(355.9,-4.3),(352.1,-0.6),(355.5,-0.4),(330.2,-0.1),(343.5,0.1),(213.6,-16.4),
    (231.4,-17.0),(344.3,-16.1),(212.5,0.1),(215.3,0.2),(224.1,0.1),(225.8,-0.1),(232.8,0.2),(281.2,-0.6),(289.2,0.4),(309.7,0.3),
    (339.7,0.4),(351.7,-0.5),(326.6,0.3),(271.6,0.2),
]

# turbine-to-turbine directions, drawn as coloured squares
pair_labels = ['wt 01 to wt 05', 'wt 02 to wt 05', 'wt 03 to wt 05', 'wt 04 to wt 05',
               'wt 06 to wt 05', 'wt 07 to wt 05', 'wt 08 to wt 05']
pair_dir = [290.8, 275.0, 291.0, 264.7, 201.2, 110.1, 146.8]
pair_yaw = [-17.0, -17.0, -16.2, -17.0, -17.0, -17.0, -17.0]
pair_face = ['#FF0000', '#FFC000', '#FFFF00', '#66FF66', '#3399FF', '#0070C0', '#000000']
pair_edge = ['#E08A8A', '#9BBB59', '#8064A2', '#4BACC6', '#F79646', '#4F81BD', '#C0504D']

sns.set_theme(style='white')
plt.rcParams['font.family'] = ['Liberation Sans', 'DejaVu Sans']
plt.rcParams['axes.unicode_minus'] = False

points = seg_000_060 + seg_085_130 + seg_130_180 + seg_180_210 + seg_210_265 + seg_265_330 + seg_330_360 + low_points
df = pd.DataFrame(points, columns=['direction', 'yaw'])

W, H = 1076, 702
fig = plt.figure(figsize=(W / 100, H / 100), dpi=100)
ax = fig.add_axes([111 / W, 1 - 615 / H, (858 - 111) / W, (615 - 71) / H])

sns.scatterplot(data=df, x='direction', y='yaw', marker='D', s=15, color='black',
                linewidth=0, ax=ax, zorder=3, legend=False)
for d, y, fc, ec in zip(pair_dir, pair_yaw, pair_face, pair_edge):
    sns.scatterplot(x=[d], y=[y], marker='s', s=60, color=fc, edgecolor=ec,
                    linewidth=0.9, ax=ax, zorder=4, legend=False)

grid_c = '#A6A6A6'
ax.set_xlim(0, 360)
ax.set_ylim(-20, 20)
ax.set_xticks(range(0, 361, 30))
ax.set_yticks(range(-20, 21, 5))
ax.grid(True, color=grid_c, linewidth=0.75)
ax.set_axisbelow(True)
for sp in ax.spines.values():
    sp.set_color(grid_c)
    sp.set_linewidth(0.75)
ax.tick_params(axis='y', left=True, length=5, width=0.75, color=grid_c, pad=9.5,
               labelsize=16.5, labelcolor='black')
ax.tick_params(axis='x', bottom=False, length=0, pad=11, labelsize=16.5, labelcolor='black')
ax.set_xlabel('')
ax.set_ylabel('')

fig.text(544 / W, 1 - 35.5 / H, 'Yaw error versus wind direction, 10min average',
         ha='center', va='center', fontsize=20, fontweight='bold')
fig.text(45 / W, 1 - 344 / H, 'Yaw error (deg)', rotation=90,
         ha='center', va='center', fontsize=16.5, fontweight='bold')
fig.text(484.5 / W, 1 - 673 / H, 'Wind direction (deg)',
         ha='center', va='center', fontsize=16.5, fontweight='bold')

handles = [Line2D([], [], marker='D', ls='', color='black', markersize=3.0)]
for fc, ec in zip(pair_face, pair_edge):
    handles.append(Line2D([], [], marker='s', ls='', markerfacecolor=fc,
                          markeredgecolor=ec, markeredgewidth=0.9, markersize=7))
fig.legend(handles, ['Yaw error'] + pair_labels, loc='center left',
           bbox_to_anchor=(889 / W, 1 - 358.5 / H), frameon=False, fontsize=16.5,
           handlelength=0.5, handletextpad=0.27, labelspacing=0.61,
           borderpad=0, borderaxespad=0)

# light chart-area frame along the top and left edges
fig.add_artist(Line2D([6 / W, 1], [1 - 5 / H, 1 - 5 / H], transform=fig.transFigure,
                      color='#BFBFBF', linewidth=1.5))
fig.add_artist(Line2D([6 / W, 6 / W], [0, 1 - 5 / H], transform=fig.transFigure,
                      color='#BFBFBF', linewidth=1.5))

fig.savefig('out.png', dpi=100)
